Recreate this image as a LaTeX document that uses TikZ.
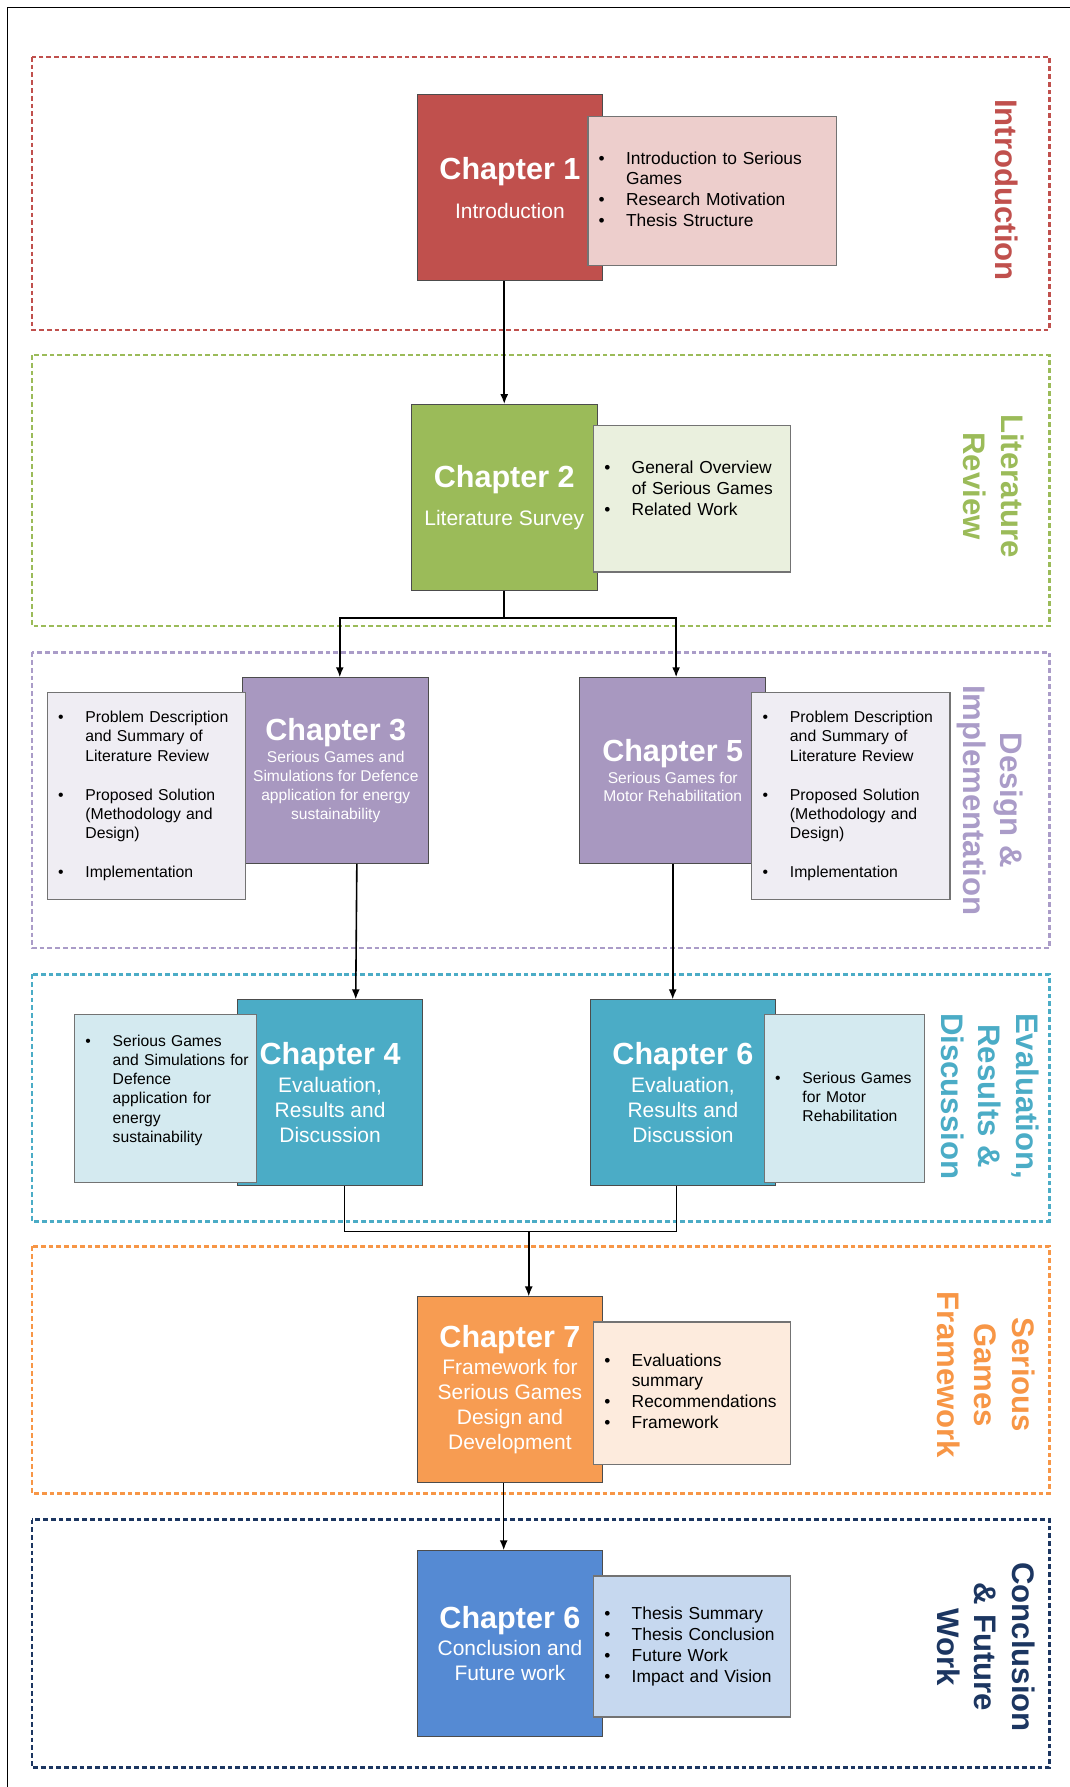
\documentclass[tikz,border=0pt]{standalone}
\usepackage{fontspec}
\setmainfont{Liberation Sans}
\usetikzlibrary{calc,arrows.meta}

\definecolor{introred}{HTML}{C0504D}
\definecolor{introlight}{HTML}{EDCECC}
\definecolor{litgreen}{HTML}{9BBB59}
\definecolor{litlight}{HTML}{EAF0DE}
\definecolor{designpurple}{HTML}{A898C0}
\definecolor{designline}{HTML}{AA9CC8}
\definecolor{designlight}{HTML}{EFEDF3}
\definecolor{evalteal}{HTML}{4BACC6}
\definecolor{evallight}{HTML}{D4EAF0}
\definecolor{frameorange}{HTML}{F79C52}
\definecolor{frameline}{HTML}{F79646}
\definecolor{framelight}{HTML}{FDEBDD}
\definecolor{conclblue}{HTML}{558AD3}
\definecolor{concllight}{HTML}{C6D8EF}
\definecolor{conclnavy}{HTML}{1C3661}

\newcommand{\chtitle}[1]{{\fontsize{15.3}{17}\selectfont\bfseries #1}}
\newcommand{\bul}{\textbullet}
\newcommand{\itemlist}[1]{\begin{tabular}{@{}p{13.7pt}@{}l@{}}#1\end{tabular}}

\tikzset{chapbox/.style={
    draw=black!70, line width=0.5pt,
    fill=#1, text=white,
    minimum width=93pt, minimum height=93pt,
    inner sep=0pt, align=center, anchor=north west,
    font=\fontsize{10.5}{12.5}\selectfont},
  listbox/.style={
    draw=black!55, line width=0.6pt,
    fill=#1, text=black,
    inner xsep=5.4pt, inner ysep=0pt,
    align=left, anchor=north west,
    font=\fontsize{8.7}{10.5}\selectfont},
  partbox/.style={
    draw=#1, line width=1.3pt,
    dash pattern=on 2.4pt off 1.5pt},
  partlabel/.style={
    text=#1, rotate=-90, align=center,
    font=\fontsize{15.6}{18.8}\selectfont\bfseries},
  flow/.style={
    -{Latex[length=5pt,width=4pt]}, line width=0.8pt},
  joint/.style={line width=0.8pt}}

\begin{document}
\begin{tikzpicture}[x=0.57pt,y=-0.57pt]
\useasboundingbox (0,0) rectangle (940,1570);
\draw[line width=0.6pt] (6.5,1570) -- (6.5,6.5) -- (940,6.5);

% parts of the thesis
\draw[partbox=introred] (28,50) rectangle (922,290);
\draw[partbox=litgreen] (28,312) rectangle (922,550);
\draw[partbox=designline] (28,573) rectangle (922,833);
\draw[partbox=evalteal] (28,856) rectangle (922,1073);
\draw[partbox=frameline] (28,1095) rectangle (922,1312);
\draw[partbox=conclnavy] (28,1335) rectangle (922,1553);

\node[partlabel=introred] (lbintro) at (884,167) {Introduction};
\node[partlabel=litgreen] (lblit) at (873,427) {Literature\\Review};
\node[partlabel=designline] (lbdesign) at (870,703) {Design \&\\Implementation};
\node[partlabel=evalteal] (lbeval) at (869.5,963) {Evaluation,\\Results \&\\Discussion};
\node[partlabel=frameline] (lbframe) at (866,1208) {Serious\\Games\\Framework};
\node[partlabel=conclnavy] (lbconcl) at (866,1447) {Conclusion\\\& Future\\Work};

% chapters
\node[chapbox=introred] (ch1) at (366,83) {\chtitle{Chapter 1}\\[7pt]Introduction};
\node[chapbox=litgreen] (ch2) at (361,355) {\chtitle{Chapter 2}\\[6.3pt]Literature Survey};
\node[chapbox=designpurple, font=\fontsize{7.8}{9.5}\selectfont] (ch3) at (213,595)
  {\chtitle{Chapter 3}\\[1.9pt]Serious Games and\\Simulations for Defence\\application for energy\\sustainability};
\node[chapbox=designpurple, font=\fontsize{7.8}{9.2}\selectfont] (ch5) at (509,595)
  {\chtitle{Chapter 5}\\[1.6pt]Serious Games for\\Motor Rehabilitation};
\node[chapbox=evalteal] (ch4) at (208,878) {\chtitle{Chapter 4}\\[1.75pt]Evaluation,\\Results and\\Discussion};
\node[chapbox=evalteal] (ch6) at (518,878) {\chtitle{Chapter 6}\\[1.75pt]Evaluation,\\Results and\\Discussion};
\node[chapbox=frameorange] (ch7) at (366,1139)
  {\chtitle{Chapter 7}\\[1.2pt]Framework for\\Serious Games\\Design and\\Development};
\node[chapbox=conclblue] (ch8) at (366,1362) {\chtitle{Chapter 6}\\[1.2pt]Conclusion and\\Future work};

% contents of the chapters
\node[listbox=introlight, text width=113.5pt, minimum height=74.7pt] (ls1) at (516,102)
  {\itemlist{\bul & Introduction to Serious\\ & Games\\ \bul & Research Motivation\\ \bul & Thesis Structure}};
\node[listbox=litlight, text width=87.8pt, minimum height=73.5pt] (ls2) at (521,373)
  {\itemlist{\bul & General Overview\\ & of Serious Games\\ \bul & Related Work\\[8pt]}};
\node[listbox=designlight, text width=88.4pt, minimum height=103.7pt, font=\fontsize{7.9}{9.7}\selectfont] (ls3) at (41,608)
  {\itemlist{\bul & Problem Description\\ & and Summary of\\ & Literature Review\\ & \\ \bul & Proposed Solution\\ & (Methodology and\\ & Design)\\ & \\ \bul & Implementation}};
\node[listbox=designlight, text width=88.4pt, minimum height=103.7pt, font=\fontsize{7.9}{9.7}\selectfont] (ls5) at (660,608)
  {\itemlist{\bul & Problem Description\\ & and Summary of\\ & Literature Review\\ & \\ \bul & Proposed Solution\\ & (Methodology and\\ & Design)\\ & \\ \bul & Implementation}};
\node[listbox=evallight, text width=80.4pt, minimum height=83.8pt, font=\fontsize{7.85}{9.6}\selectfont] (ls4) at (65,891)
  {\itemlist{\bul & Serious Games\\ & and Simulations for\\ & Defence\\ & application for\\ & energy\\ & sustainability\\[8pt]}};
\node[listbox=evallight, text width=69.6pt, minimum height=83.8pt, font=\fontsize{7.85}{9.6}\selectfont] (ls6) at (671,891)
  {\itemlist{\bul & Serious Games\\ & for Motor\\ & Rehabilitation}};
\node[listbox=framelight, text width=87.8pt, minimum height=71.3pt] (ls7) at (521,1161)
  {\itemlist{\bul & Evaluations\\ & summary\\ \bul & Recommendations\\ \bul & Framework}};
\node[listbox=concllight, text width=87.8pt, minimum height=70.7pt] (ls8) at (521,1384)
  {\itemlist{\bul & Thesis Summary\\ \bul & Thesis Conclusion\\ \bul & Future Work\\ \bul & Impact and Vision}};

% reading order
\draw[flow] (ch1.south -| ch2.north) -- (ch2.north);
\draw[flow] (ch2.south) -- ++(0,24) -| ($(ch3.north)+(3.5,0)$);
\draw[flow] (ch2.south) -- ++(0,24) -| ($(ch5.north)+(3,0)$);
\draw[flow] ($(ch3.south)+(18.5,0)$) -- ($(ch4.north)+(22.5,0)$);
\draw[flow] (ch5.south) -- (ch5.south |- ch6.north);
\coordinate (merge) at ($(ch7.north)+(16.5,-57)$);
\draw[joint] ($(ch4.south)+(12.5,0)$) |- (merge) -| ($(ch6.south)+(-5.5,0)$);
\draw[flow] (merge) -- (merge |- ch7.north);
\draw[flow] ($(ch7.south)+(-5.5,0)$) -- ($(ch8.north)+(-5.5,0)$);
\end{tikzpicture}
\end{document}
